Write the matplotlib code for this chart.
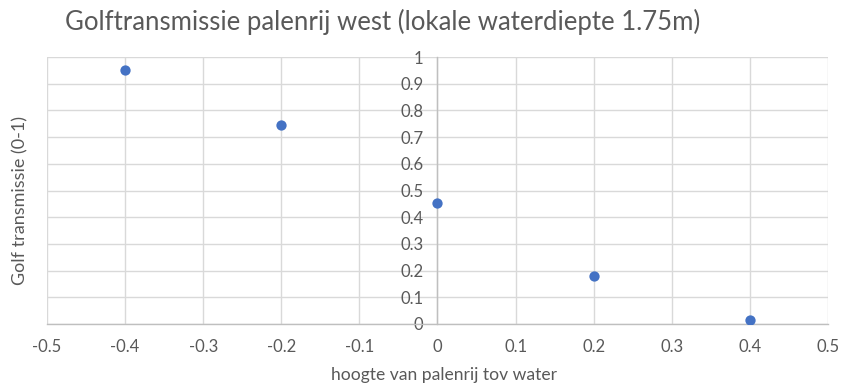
import matplotlib
matplotlib.use("Agg")
import matplotlib.pyplot as plt

hoogte = [-0.4, -0.2, 0.0, 0.2, 0.4]
transmissie = [0.951, 0.745, 0.455, 0.180, 0.015]
x_ticks = [-0.5, -0.4, -0.3, -0.2, -0.1, 0, 0.1, 0.2, 0.3, 0.4, 0.5]
x_tick_labels = ["-0.5", "-0.4", "-0.3", "-0.2", "-0.1", "0", "0.1", "0.2", "0.3", "0.4", "0.5"]
y_ticks = [0, 0.1, 0.2, 0.3, 0.4, 0.5, 0.6, 0.7, 0.8, 0.9, 1]
y_tick_labels = ["0", "0.1", "0.2", "0.3", "0.4", "0.5", "0.6", "0.7", "0.8", "0.9", "1"]

plt.rcParams['font.family'] = ['Lato', 'DejaVu Sans']
txt = '#595959'

fig = plt.figure(figsize=(8.41, 3.87), dpi=100)
ax = fig.add_axes([0.0559, 0.1628, 0.9286, 0.6899])
ax.set_xlim(-0.5, 0.5)
ax.set_ylim(0, 1)

ax.scatter(hoogte, transmissie, s=55, color='#4472C4', zorder=5, linewidths=0)

ax.set_xticks(x_ticks)
ax.set_xticklabels(x_tick_labels)
ax.set_yticks(y_ticks)
ax.set_yticklabels(y_tick_labels)
ax.grid(True, color='#d9d9d9', linewidth=1.0)
ax.set_axisbelow(True)

for s in ['top', 'right']:
    ax.spines[s].set_visible(False)
ax.spines['left'].set_position(('data', 0))
ax.spines['left'].set_color('#bfbfbf')
ax.spines['bottom'].set_color('#bfbfbf')
ax.spines['left'].set_linewidth(1.0)
ax.spines['bottom'].set_linewidth(1.0)

ax.tick_params(axis='y', length=0, pad=10, labelsize=12, labelcolor=txt)
ax.tick_params(axis='x', length=0, pad=11, labelsize=12, labelcolor=txt)

fig.text(0.0238, 0.483, 'Golf transmissie (0-1)', rotation=90, ha='center', va='center',
         fontsize=13, color=txt)
fig.text(0.528, 0.03, 'hoogte van palenrij tov water', ha='center', va='center',
         fontsize=12.6, color=txt)
fig.text(0.077, 0.943, 'Golftransmissie palenrij west (lokale waterdiepte 1.75m)',
         ha='left', va='center', fontsize=18.5, color=txt)

fig.savefig('out.png', dpi=100)
